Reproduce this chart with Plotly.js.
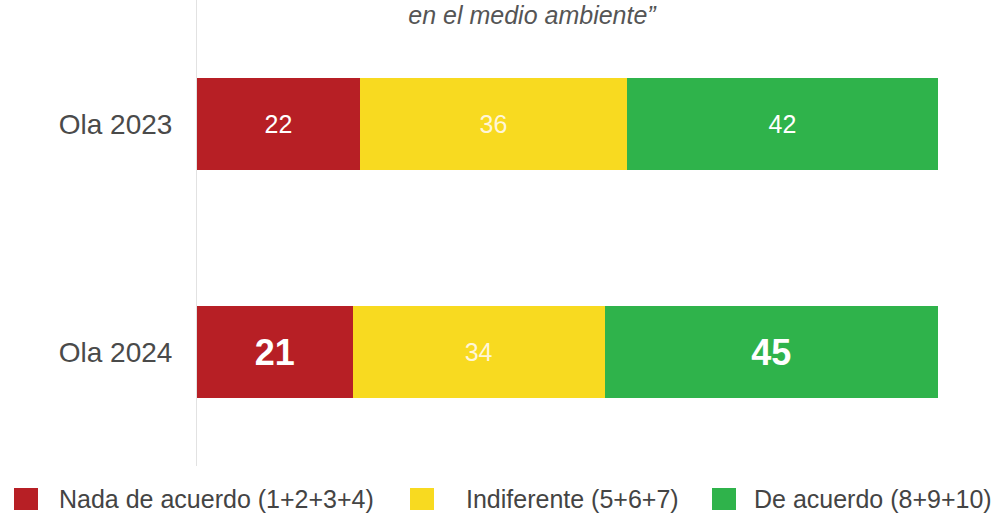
<!DOCTYPE html>
<html>
<head>
<meta charset="utf-8">
<script src="https://cdn.plot.ly/plotly-3.0.1.min.js"></script>
<style>
  html, body { margin: 0; padding: 0; background: #fff; }
  #chart { width: 995px; height: 516px; }
</style>
</head>
<body>
<div id="chart"></div>
<script>
const waves = ["Ola 2023", "Ola 2024"];
const seriesNames = ["Nada de acuerdo (1+2+3+4)", "Indiferente (5+6+7)", "De acuerdo (8+9+10)"];
const nadaValues = [22, 21];
const indifValues = [36, 34];
const acuerdoValues = [42, 45];
const colors = ["#b71f25", "#f8da20", "#2fb34b"];
const titleText = "<i>en el medio ambiente”</i>";

// which labels are drawn big and bold
const bigLabel = [[false, true], [false, false], [false, true]];

const W = 995, H = 516;
const margin = { l: 197, r: 57, t: 0, b: 50 };
const plotW = W - margin.l - margin.r;
const plotH = H - margin.t - margin.b;
const px = x => (x - margin.l) / plotW;
const py = y => 1 - (y - margin.t) / plotH;

const FONT = "Liberation Sans, Arial, sans-serif";

const allValues = [nadaValues, indifValues, acuerdoValues];

const traces = allValues.map((vals, i) => ({
  type: "bar",
  orientation: "h",
  y: waves,
  x: vals,
  name: seriesNames[i],
  marker: { color: colors[i], line: { width: 0 } },
  text: vals.map((v, j) => bigLabel[i][j] ? "<b>" + v + "</b>" : String(v)),
  textposition: "inside",
  insidetextanchor: "middle",
  textangle: 0,
  textfont: {
    family: FONT,
    color: i === 1 ? "#fff6d8" : "#ffffff",
    size: vals.map((v, j) => bigLabel[i][j] ? 36 : 25)
  },
  hoverinfo: "skip",
  showlegend: false
}));

// legend drawn by hand (bigger swatches than the built-in one)
const legendY = 499;
const swatchX = [26, 422, 724];
const labelX = [57, 464, 752];
const shapes = [];
const annotations = [];
seriesNames.forEach((name, i) => {
  shapes.push({
    type: "rect", xref: "paper", yref: "paper",
    x0: px(swatchX[i] - 12), x1: px(swatchX[i] + 12),
    y0: py(legendY + 11), y1: py(legendY - 11),
    fillcolor: colors[i], line: { width: 0 }
  });
  annotations.push({
    xref: "paper", yref: "paper",
    x: px(labelX[i]), y: py(legendY),
    xanchor: "left", yanchor: "middle",
    text: name, showarrow: false,
    font: { family: FONT, size: 25, color: "#444" }
  });
});

const layout = {
  width: W, height: H,
  margin: margin,
  paper_bgcolor: "#fff",
  plot_bgcolor: "#fff",
  barmode: "stack",
  bargap: 0.6,
  title: {
    text: titleText,
    x: 532 / W, xanchor: "center",
    y: 1 - 15 / H, yanchor: "middle",
    font: { family: FONT, size: 25, color: "#555" }
  },
  xaxis: {
    range: [0, 100],
    showgrid: false, zeroline: false, showticklabels: false, showline: false
  },
  yaxis: {
    type: "category",
    range: [1.5, -0.544],
    showgrid: false, zeroline: false,
    showline: true, linecolor: "#e2e2e2", linewidth: 1,
    ticks: "outside", ticklen: 18, tickcolor: "rgba(0,0,0,0)",
    tickfont: { family: FONT, size: 28, color: "#4a4a4a" }
  },
  shapes: shapes,
  annotations: annotations,
  showlegend: false
};

Plotly.newPlot("chart", traces, layout, { displayModeBar: false, staticPlot: true });
</script>
</body>
</html>
